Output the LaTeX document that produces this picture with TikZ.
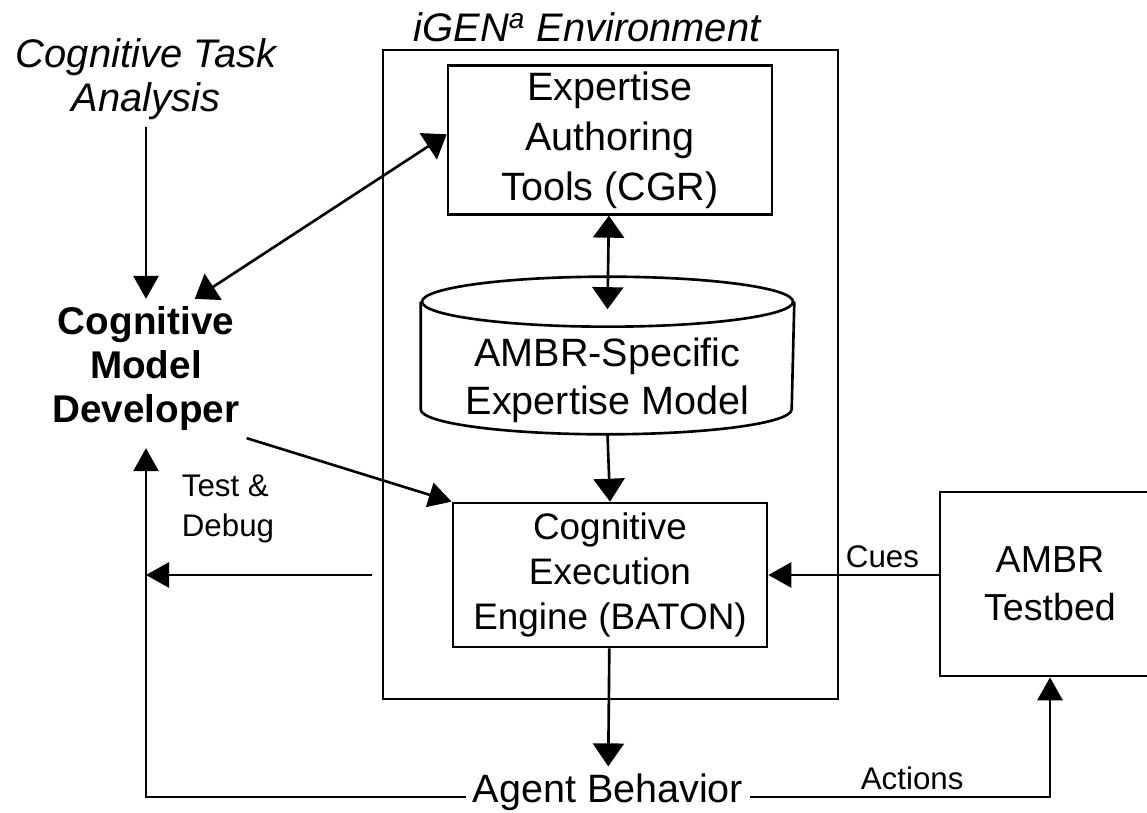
\documentclass[tikz,border=0pt]{standalone}
\usepackage{fontspec}
\setmainfont{Liberation Sans}
\usetikzlibrary{arrows.meta}

\begin{document}
\begin{tikzpicture}[line width=1.5pt,
    box/.style={draw,align=center,font=\fontsize{22.5}{28.5}\selectfont},
    lbl/.style={font=\fontsize{17.8}{22.8}\selectfont},
    arr/.style={-{Triangle[length=0.46cm,width=0.5cm]}},
    wide/.style={-{Triangle[length=0.46cm,width=0.62cm]}},
    dbl/.style={{Triangle[length=0.44cm,width=0.62cm]}-{Triangle[length=0.44cm,width=0.62cm]}}]
        \useasboundingbox (0,0) rectangle (22.94,16.24);
        \node[draw,minimum width=9.1cm,minimum height=12.98cm] (igen) at (12.21,8.75) {};
        \node[anchor=base,font=\fontsize{22.7}{27}\selectfont\itshape] (title) at (11.74,15.4) {iGEN\textsuperscript{a} Environment};
        \node[box,minimum width=6.48cm,minimum height=2.92cm] (exp) at (12.2,13.44) {Expertise\\Authoring\\Tools (CGR)};
        \node[align=center,font=\fontsize{22.5}{27.3}\selectfont,minimum width=7.42cm,minimum height=2.1cm] (model) at (12.15,8.63) {AMBR-Specific\\Expertise Model};
        \draw ([yshift=0.5cm]model.north) ellipse [x radius=3.71cm,y radius=0.5cm];
        \draw ([yshift=0.5cm]model.north west) -- ([yshift=0.5cm]model.south west)
          arc [start angle=180,end angle=360,x radius=3.71cm,y radius=0.5cm] -- ([yshift=0.5cm]model.north east);
        \node[box,font=\fontsize{21}{25.5}\selectfont,minimum width=6.28cm,minimum height=2.88cm] (exec) at (12.2,4.74) {Cognitive\\Execution\\Engine (BATON)};
        \node[box,font=\fontsize{21.4}{27.3}\selectfont,minimum width=4.4cm,minimum height=3.68cm] (bed) at (21.0,4.56) {AMBR\\Testbed};
        \node[align=center,font=\fontsize{22.7}{25}\selectfont\itshape] (cta) at (2.92,14.65) {Cognitive Task\\Analysis};
        \node[align=center,font=\fontsize{22}{25.3}\selectfont\bfseries] (dev) at (2.92,8.87) {Cognitive\\Model\\Developer};
        \node[font=\fontsize{22.5}{27}\selectfont] (agent) at (12.16,0.40) {Agent Behavior};
        \node[lbl,align=left] (debug) at (4.56,6.06) {Test \&\\Debug};
        \draw[arr] (cta) -- (dev);
        \draw[dbl] (dev.55) -- (exp.178);
        \draw[arr] (dev.south east) -- (exec.north west);
        \draw[dbl] (exp) -- ([yshift=0.35cm]model.north);
        \draw[wide] (model.south) -- (exec.north);
        \draw[wide] (exec) -- (agent);
        \draw[arr] (bed.west |- exec.east) -- node[lbl,pos=0.33,above] (cues) {Cues} (exec.east);
        \draw[arr] ([xshift=-0.2cm]igen.west |- exec.east) -- (dev |- exec.east);
        \draw[arr] ([yshift=-0.1cm]agent.west) -| ([yshift=-0.2cm]dev.south);
        \draw[arr] ([yshift=-0.1cm]agent.east) -| node[lbl,pos=0.27,above] (acts) {Actions} (bed.south);
      \end{tikzpicture}
\end{document}
